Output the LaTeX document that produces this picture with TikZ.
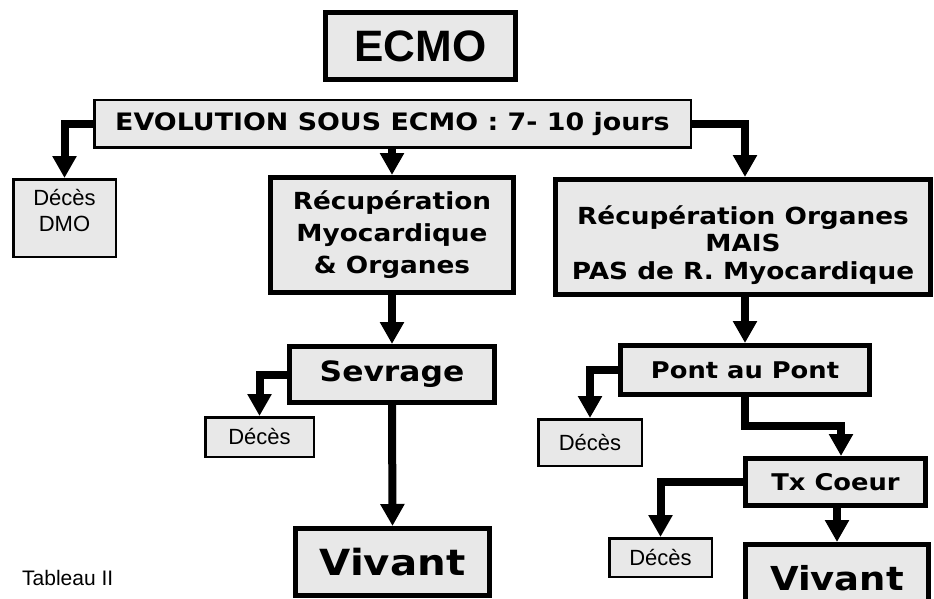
\documentclass[tikz,border=0pt]{standalone}
\usepackage{fontspec}
\setmainfont{Liberation Sans}
\newfontfamily\vbold[FakeStretch=1.12]{DejaVu Sans Bold}
\newfontfamily\abold{Liberation Sans Bold}
\usetikzlibrary{arrows.meta}
\definecolor{boxgray}{RGB}{232,232,232}
\begin{document}
\begin{tikzpicture}[x=1pt,y=-1pt,
  base/.style={draw=black, fill=boxgray, inner sep=0pt, align=center, anchor=center},
  heavy/.style={base, line width=5pt},
  light/.style={base, line width=2.5pt},
  small/.style={font=\fontsize{22}{26}\selectfont},
  flow/.style={line width=8pt, line join=miter, -{Triangle[width=23pt,length=22pt]}}]
\fill[white] (0,0) rectangle (934,599);
\useasboundingbox (0,0) rectangle (934,599);

\node[heavy, minimum width=190pt, minimum height=67pt, font=\abold\fontsize{44}{50}\selectfont] (ecmo) at (420.5,46) {ECMO};
\node[light, minimum width=596.5pt, minimum height=47.5pt, font=\vbold\fontsize{24}{28}\selectfont] (evo) at (392.5,124) {EVOLUTION SOUS ECMO : 7- 10 jours};
\node[light, minimum width=102.5pt, minimum height=77.5pt,
  label={[small, align=center, yshift=7pt]center:Décès\\DMO}] (dmo) at (64.5,218) {};
\node[heavy, minimum width=243pt, minimum height=115pt, font=\vbold\fontsize{23.5}{32}\selectfont] (recL) at (392,235) {Récupération\\Myocardique\\\& Organes};
\node[heavy, minimum width=375pt, minimum height=115pt,
  label={[font=\vbold\fontsize{23.5}{27.5}\selectfont, align=center, yshift=-8pt]center:Récupération Organes\\MAIS\\PAS de R. Myocardique}] (recR) at (743,237) {};
\node[heavy, minimum width=205pt, minimum height=56pt, font=\vbold\fontsize{28}{32}\selectfont] (sev) at (392,374.5) {Sevrage};
\node[light, small, minimum width=108.5pt, minimum height=39.5pt] (d1) at (259.5,437) {Décès};
\node[heavy, minimum width=194pt, minimum height=67pt, font=\vbold\fontsize{36}{40}\selectfont] (viv1) at (392.5,562) {Vivant};
\node[heavy, minimum width=249pt, minimum height=49pt, font=\vbold\fontsize{23}{28}\selectfont] (pont) at (745,370) {Pont au Pont};
\node[light, small, minimum width=103.5pt, minimum height=46.5pt] (d2) at (590,442.5) {Décès};
\node[heavy, minimum width=180pt, minimum height=47pt, font=\vbold\fontsize{23}{28}\selectfont] (tx) at (835.5,482) {Tx Coeur};
\node[light, small, minimum width=102.5pt, minimum height=38.5pt] (d3) at (660.5,557.5) {Décès};
\node[heavy, minimum width=183pt, minimum height=67pt, font=\vbold\fontsize{33}{38}\selectfont] (viv2) at (837,578) {Vivant};
\node[anchor=base west, inner sep=0pt, font=\fontsize{21}{24}\selectfont] (tab) at (22,585) {Tableau II};

\draw[flow] (evo.west) -| (dmo.north);
\draw[flow] (evo.south -| recL.north) -- (recL.north);
\draw[flow] (evo.east) -| (recR.north -| pont.north);
\draw[flow] (recR.south -| pont.north) -- (pont.north);
\draw[flow] (recL.south) -- (sev.north);
\draw[flow] (sev.west) -| (d1.north);
\draw[flow] (sev.south) -- (viv1.north);
\draw[flow] (pont.west) -| (d2.north);
\draw[flow] (pont.south) -- ++(0,29) -| ([xshift=5.5pt]tx.north);
\draw[flow] (tx.west) -| (d3.north);
\draw[flow] (tx.south -| viv2.north) -- (viv2.north);
\end{tikzpicture}
\end{document}
